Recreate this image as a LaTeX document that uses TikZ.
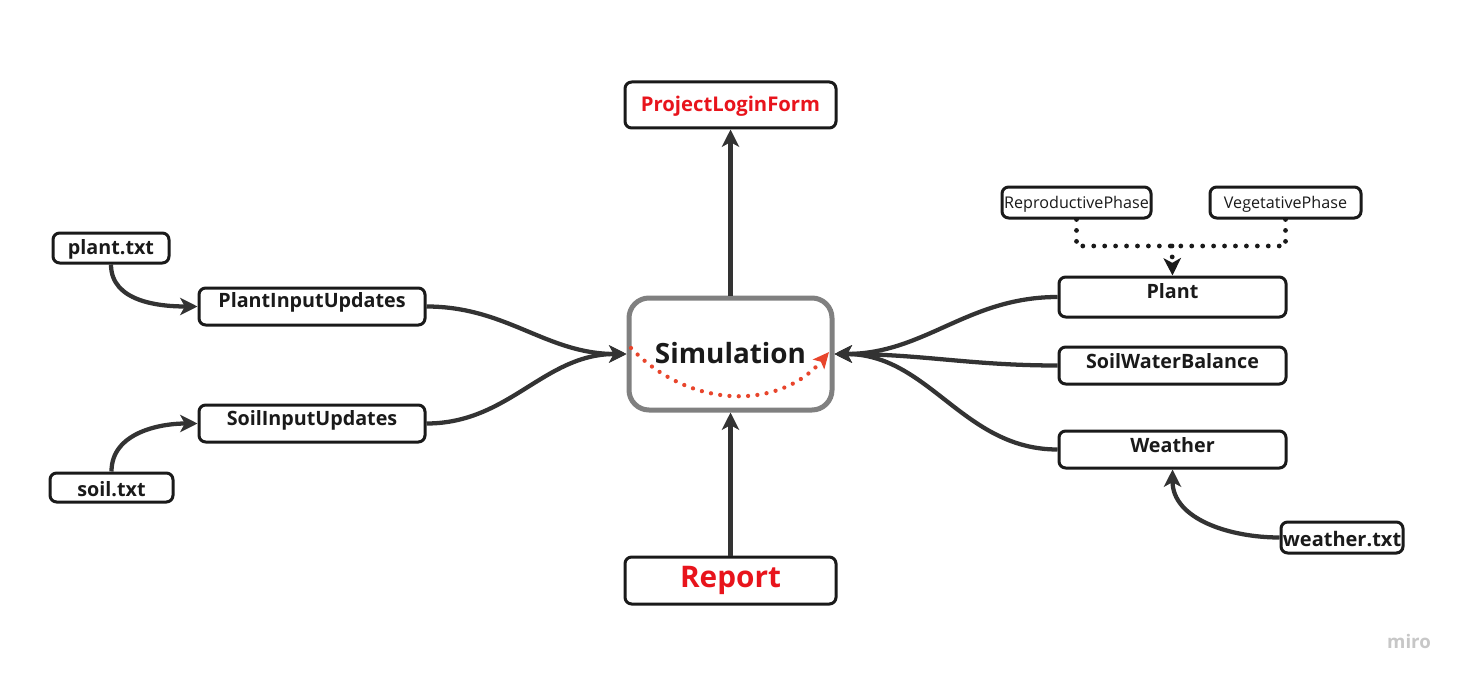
\documentclass[tikz,border=0pt]{standalone}
\usepackage{fontspec}
\setmainfont{Open Sans}
\usetikzlibrary{arrows.meta}
\definecolor{lnc}{HTML}{333333}
\definecolor{bxc}{HTML}{1A1A1A}
\definecolor{redt}{HTML}{E8141C}
\definecolor{redd}{HTML}{E8452C}
\definecolor{simc}{HTML}{808080}
\tikzset{
  box/.style={draw=bxc, line width=2.25pt, rounded corners=5pt, fill=white, inner sep=0pt},
  lbl/.style={font=\bfseries\fontsize{14.8}{16}\selectfont, text=bxc, inner sep=0pt},
  small/.style={font=\fontsize{12.1}{14}\selectfont, text=bxc, inner sep=0pt},
  conn/.style={draw=lnc, line width=3.2pt, -{Stealth[length=13pt,width=13pt,inset=3.5pt]}},
  dots/.style={draw=bxc, line width=3.6pt, line cap=round, dash pattern=on 0pt off 8.2pt},
}
\begin{document}
\begin{tikzpicture}[x=0.75pt,y=-0.75pt]
\useasboundingbox[fill=white] (0,0) rectangle (1466,681);
% boxes
\node[box, minimum width=158.25pt, minimum height=34.5pt] (plf) at (730.5,105) {};
\node[box, draw=simc, line width=3.75pt, rounded corners=15pt, minimum width=152.25pt, minimum height=84pt] (sim) at (730.5,354) {};
\node[box, minimum width=158.25pt, minimum height=35.25pt] (rep) at (730.5,580.5) {};
\node[box, minimum width=87pt, minimum height=22.5pt] (ptxt) at (111,248) {};
\node[box, minimum width=169.5pt, minimum height=27.75pt] (piu) at (312,306.5) {};
\node[box, minimum width=169.5pt, minimum height=27.75pt] (siu) at (312,423.5) {};
\node[box, minimum width=92.25pt, minimum height=21.75pt] (stxt) at (111.5,487.5) {};
\node[box, minimum width=170.25pt, minimum height=30pt] (plant) at (1172.5,297) {};
\node[box, minimum width=170.25pt, minimum height=27.75pt] (swb) at (1172.5,365.5) {};
\node[box, minimum width=170.25pt, minimum height=27.75pt] (wea) at (1172.5,449.5) {};
\node[box, minimum width=91.5pt, minimum height=23.25pt] (wtxt) at (1342,537.5) {};
\node[box, minimum width=111.75pt, minimum height=23.25pt] (rp) at (1076.5,202.5) {};
\node[box, minimum width=113.25pt, minimum height=23.25pt] (vp) at (1285.5,202.5) {};
% texts
\node[lbl, text=redt, font=\bfseries\fontsize{15.2}{17}\selectfont] (tplf) at (730.5,106) {ProjectLoginForm};
\node[lbl, font=\bfseries\fontsize{20.9}{24}\selectfont] (tsim) at (730.5,353.5) {Simulation};
\node[lbl, text=redt, font=\bfseries\fontsize{22.3}{25}\selectfont] (trep) at (730.5,580.5) {Report};
\node[lbl] (tptxt) at (111,249) {plant.txt};
\node[lbl] (tpiu) at (312,302) {PlantInputUpdates};
\node[lbl] (tsiu) at (312,420) {SoilInputUpdates};
\node[lbl] (tstxt) at (111.5,489.5) {soil.txt};
\node[lbl] (tplant) at (1172.5,291) {Plant};
\node[lbl] (tswb) at (1172.5,361) {SoilWaterBalance};
\node[lbl] (twea) at (1172.5,445) {Weather};
\node[lbl, font=\bfseries\fontsize{15}{17}\selectfont] (twtxt) at (1342,539) {weather.txt};
\node[small] (trp) at (1076.5,204) {ReproductivePhase};
\node[small] (tvp) at (1285.5,204) {VegetativePhase};
\node[font=\bfseries\fontsize{14}{16}\selectfont, text=black!22, inner sep=0pt] (miro) at (1409,641) {miro};
% connectors
\draw[conn] (sim.north) -- (plf.south);
\draw[conn] (rep.north) -- (sim.south);
\draw[conn] (piu.east) to[out=0,in=180] (sim.west);
\draw[conn] (siu.east) to[out=0,in=180] (sim.west);
\draw[conn] (plant.west) to[out=180,in=0] (sim.east);
\draw[conn] (swb.west) to[out=180,in=0] (sim.east);
\draw[conn] (wea.west) to[out=180,in=0] (sim.east);
\draw[conn] (ptxt.south) to[out=-90,in=180] (piu.west);
\draw[conn] (stxt.north) to[out=90,in=180] (siu.west);
\draw[conn] (wtxt.west) to[out=180,in=-90] (wea.south);
% dotted phase links
\coordinate (jn) at (1172,246);
\draw[dots] (rp.south) |- (jn);
\draw[dots] (vp.south) |- (jn);
\draw[dots, -{Stealth[length=13pt,width=13pt,inset=3.5pt]}] (jn) -- (plant.north);
% red dotted loop
\coordinate (la) at (631,348);
\coordinate (lb) at (829,352);
\draw[draw=redd, line width=3.2pt, line cap=round, dash pattern=on 0pt off 7pt, -{Stealth[length=12pt,width=11pt,inset=2.5pt]}] (la) .. controls (690,410) and (780,410) .. (lb);
\end{tikzpicture}
\end{document}
